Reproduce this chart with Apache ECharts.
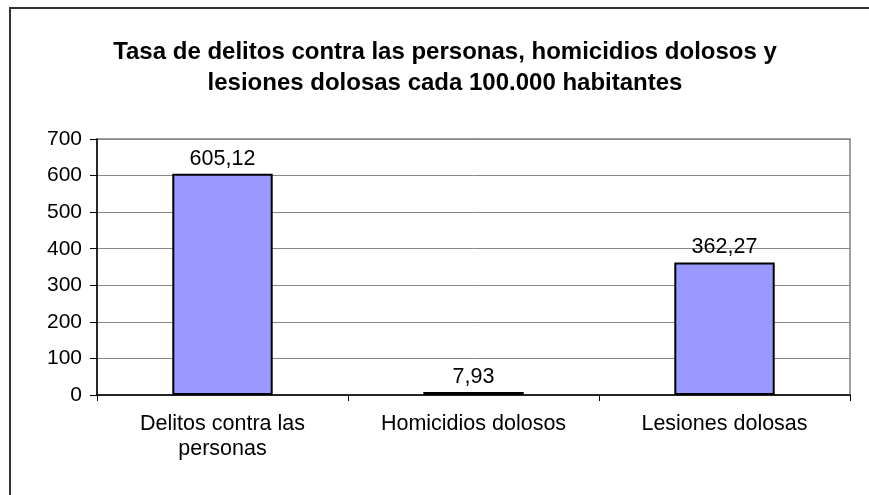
<!DOCTYPE html>
<html><head><meta charset="utf-8">
<script src="https://cdn.jsdelivr.net/npm/echarts@6/dist/echarts.min.js"></script>
<style>html,body{margin:0;padding:0;background:#fff}#c{width:869px;height:495px}</style>
</head><body><div id="c"></div>
<script>
const categories = ['Delitos contra las\npersonas', 'Homicidios dolosos', 'Lesiones dolosas'];
const values = [605.12, 7.93, 362.27];
const yTicks = [0, 100, 200, 300, 400, 500, 600, 700];
const titleText = 'Tasa de delitos contra las personas, homicidios dolosos y\nlesiones dolosas cada 100.000 habitantes';

const chart = echarts.init(document.getElementById('c'));
const F = '"Liberation Sans", Arial, sans-serif';
chart.setOption({
  animation: false,
  backgroundColor: '#fff',
  textStyle: { fontFamily: F },
  title: {
    text: titleText,
    left: 440, top: 32, textAlign: 'center',
    textStyle: { fontFamily: F, fontWeight: 'bold', fontSize: 24, lineHeight: 31, color: '#000' }
  },
  graphic: [{
    type: 'rect', shape: { x: 10, y: 8, width: 900, height: 520 },
    style: { fill: 'none', stroke: '#333', lineWidth: 2 }, silent: true, z: 10
  }],
  grid: { left: 97, right: 19, top: 139, bottom: 100, show: true, borderColor: '#808080', borderWidth: 1.5, backgroundColor: 'transparent' },
  xAxis: {
    type: 'category', data: categories,
    axisLine: { lineStyle: { color: '#000', width: 1.5 } },
    axisTick: { show: true, length: 6, alignWithLabel: false, lineStyle: { color: '#000', width: 1 } },
    axisLabel: { color: '#000', fontSize: 21.5, lineHeight: 25, margin: 17, fontFamily: F, interval: 0 }
  },
  yAxis: {
    type: 'value', min: yTicks[0], max: yTicks[yTicks.length - 1], interval: 100,
    axisLine: { show: true, lineStyle: { color: '#000', width: 1.5 } },
    axisTick: { show: true, length: 7, lineStyle: { color: '#000', width: 1 } },
    axisLabel: { color: '#000', fontSize: 21, margin: 15, fontFamily: F },
    splitLine: { lineStyle: { color: '#888', width: 1 } }
  },
  series: [{
    type: 'bar', data: values, barWidth: '40%',
    itemStyle: { color: '#9999FF', borderColor: '#000', borderWidth: 2 },
    label: {
      show: true, position: 'top', distance: 4, color: '#000', fontSize: 21.5, fontFamily: F,
      formatter: p => p.value.toFixed(2).replace('.', ',')
    }
  }]
});
</script></body></html>
